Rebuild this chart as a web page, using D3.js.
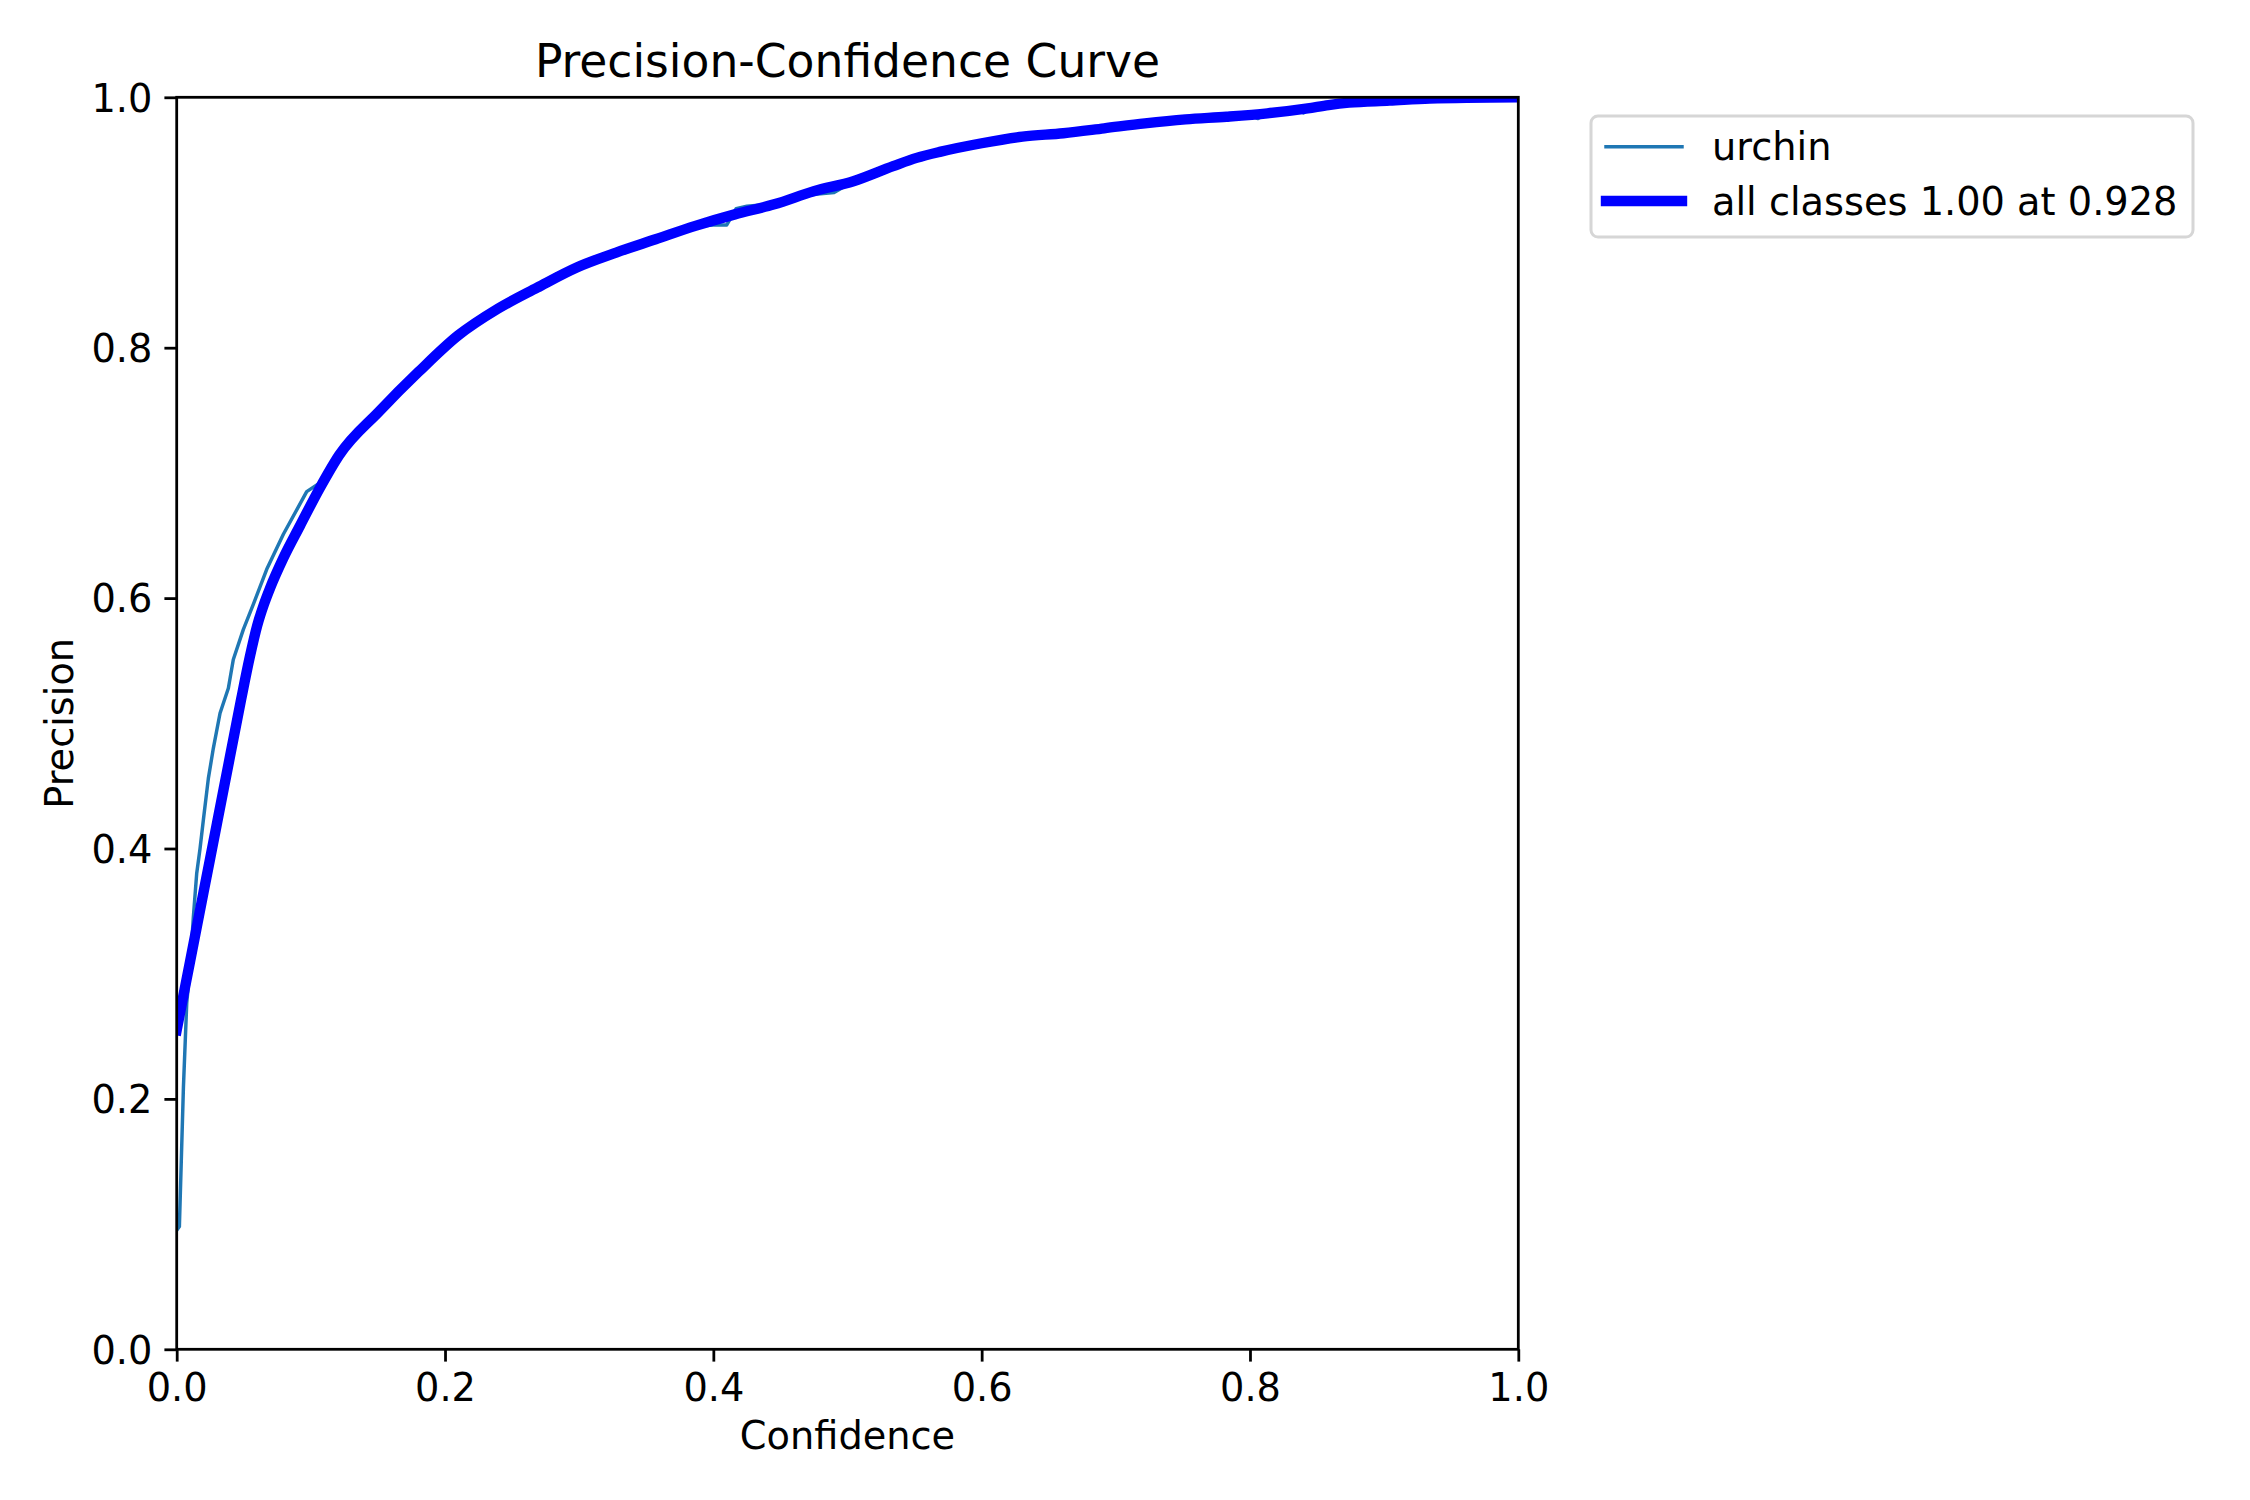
<!DOCTYPE html>
<html>
<head>
<meta charset="utf-8">
<script src="https://cdn.jsdelivr.net/npm/d3@7"></script>
<style>
    body { margin: 0; background: #fff; }
    svg text { font-family: "DejaVu Sans", sans-serif; fill: #000; }
</style>
</head>
<body>
<svg id="chart"></svg>
<script>
const width = 2250;
const height = 1500;
const margin = { top: 97.3, right: 731.7, bottom: 150.7, left: 176.7 };

// confidence / precision
const confAll = [0, 0.01, 0.02, 0.03, 0.04, 0.048, 0.0545, 0.06, 0.065, 0.0696, 0.0795, 0.092,
    0.1067, 0.1213, 0.1508, 0.1803, 0.2098, 0.2392, 0.2687, 0.2982, 0.3276, 0.357, 0.3866,
    0.416, 0.4454, 0.4749, 0.5044, 0.534, 0.5515, 0.5696, 0.6, 0.6304, 0.6609, 0.6913,
    0.7217, 0.752, 0.7825, 0.813, 0.843, 0.8586, 0.8738, 0.904, 0.934, 1.0];
const precAll = [0.255, 0.31, 0.365, 0.42, 0.475, 0.519, 0.553, 0.578, 0.595, 0.608, 0.632, 0.658,
    0.688, 0.7145, 0.749, 0.7807, 0.8098, 0.831, 0.848, 0.8641, 0.876, 0.8866, 0.8973,
    0.9065, 0.9145, 0.925, 0.933, 0.945, 0.9516, 0.9566, 0.9633, 0.9686, 0.9713, 0.9752,
    0.9792, 0.9824, 0.9845, 0.9872, 0.9912, 0.9938, 0.9957, 0.9973, 0.999, 1.0];

const confUrchin = [0, 0.002, 0.005, 0.0075, 0.01, 0.0124, 0.0149, 0.0174, 0.02, 0.0236, 0.0273,
    0.0323, 0.0385, 0.0422, 0.0497, 0.0571, 0.0671, 0.0795, 0.0969, 0.1067, 0.1213, 0.135,
    0.1508, 0.1803, 0.2098, 0.23, 0.245, 0.2687, 0.283, 0.2982, 0.3276, 0.357, 0.3866, 0.4,
    0.41, 0.417, 0.425, 0.4454, 0.47, 0.49, 0.5044, 0.534, 0.5696, 0.6, 0.6304, 0.6609,
    0.6913, 0.7217, 0.752, 0.7825, 0.8, 0.806, 0.813, 0.835, 0.84, 0.845, 0.8586, 0.8738,
    0.904, 0.934, 1.0];
const precUrchin = [0.095, 0.098, 0.209, 0.277, 0.305, 0.345, 0.38, 0.4, 0.424, 0.456, 0.48,
    0.508, 0.528, 0.551, 0.575, 0.595, 0.623, 0.651, 0.685, 0.692, 0.718, 0.733,
    0.75, 0.781, 0.81, 0.826, 0.836, 0.849, 0.859, 0.864, 0.876, 0.887, 0.897, 0.898,
    0.898, 0.911, 0.913, 0.915, 0.922, 0.924, 0.933, 0.945, 0.957, 0.9633, 0.9686, 0.9713,
    0.9752, 0.9792, 0.9824, 0.9845, 0.9858, 0.983, 0.9872, 0.9895, 0.9875, 0.9915, 0.9938, 0.996,
    0.998, 1.0, 1.0];

const xTicks = [0, 0.2, 0.4, 0.6, 0.8, 1.0];
const yTicks = [0, 0.2, 0.4, 0.6, 0.8, 1.0];
const legendLabels = ["urchin", "all classes 1.00 at 0.928"];
const legendColors = ["#1f77b4", "blue"];
const legendWidths = [3.47, 10.4];

const fontSize = 38.3;
const spineWidth = 2.78;

const svg = d3.select("#chart").attr("width", width).attr("height", height);
const innerW = width - margin.left - margin.right;
const innerH = height - margin.top - margin.bottom;

const x = d3.scaleLinear().domain([0, 1]).range([margin.left, margin.left + innerW]);
const y = d3.scaleLinear().domain([0, 1]).range([margin.top + innerH, margin.top]);

svg.append("defs").append("clipPath").attr("id", "plot-clip")
    .append("rect")
    .attr("x", margin.left).attr("y", margin.top)
    .attr("width", innerW).attr("height", innerH);

// curves: per-class is raw (jagged), the all-classes one is smoothed
const rawLine = d3.line().x((d) => x(d[0])).y((d) => y(d[1]));
const smoothLine = d3.line().curve(d3.curveMonotoneX).x((d) => x(d[0])).y((d) => y(d[1]));
const curves = [
    { pts: d3.zip(confUrchin, precUrchin), color: legendColors[0], w: legendWidths[0], gen: rawLine },
    { pts: d3.zip(confAll, precAll), color: legendColors[1], w: legendWidths[1], gen: smoothLine },
];
svg.append("g").attr("clip-path", "url(#plot-clip)")
    .selectAll("path")
    .data(curves)
    .join("path")
    .attr("d", (d) => d.gen(d.pts))
    .attr("fill", "none")
    .attr("stroke", (d) => d.color)
    .attr("stroke-width", (d) => d.w)
    .attr("stroke-linejoin", "round")
    .attr("stroke-linecap", "square");

// axes
const fmt = d3.format(".1f");
const xAxis = svg.append("g")
    .attr("transform", `translate(0, ${margin.top + innerH})`)
    .call(d3.axisBottom(x).tickValues(xTicks).tickFormat(fmt).tickSize(12.3).tickPadding(11));
const yAxis = svg.append("g")
    .attr("transform", `translate(${margin.left}, 0)`)
    .call(d3.axisLeft(y).tickValues(yTicks).tickFormat(fmt).tickSize(12.3).tickPadding(12));
[xAxis, yAxis].forEach((g) => {
    g.select(".domain").remove();
    g.selectAll(".tick line").attr("stroke", "#000").attr("stroke-width", spineWidth);
    g.selectAll(".tick text")
        .attr("font-size", fontSize)
        .attr("font-family", "DejaVu Sans")
        .attr("fill", "#000");
});
xAxis.selectAll(".tick text").attr("dy", "0.74em");
yAxis.selectAll(".tick text").attr("dy", "0.36em");

svg.append("rect")
    .attr("x", margin.left).attr("y", margin.top)
    .attr("width", innerW).attr("height", innerH)
    .attr("fill", "none")
    .attr("stroke", "#000")
    .attr("stroke-width", spineWidth);

// labels
svg.append("text")
    .attr("x", margin.left + innerW / 2).attr("y", 76.7)
    .attr("text-anchor", "middle")
    .attr("font-size", 45.6)
    .text("Precision-Confidence Curve");
svg.append("text")
    .attr("x", margin.left + innerW / 2).attr("y", 1449)
    .attr("text-anchor", "middle")
    .attr("font-size", fontSize)
    .text("Confidence");
svg.append("text")
    .attr("transform", `translate(73, ${margin.top + innerH / 2}) rotate(-90)`)
    .attr("text-anchor", "middle")
    .attr("font-size", fontSize)
    .text("Precision");

// legend
const legend = svg.append("g").attr("transform", "translate(1591, 116)");
legend.append("rect")
    .attr("width", 602).attr("height", 121)
    .attr("rx", 7).attr("ry", 7)
    .attr("fill", "#fff").attr("fill-opacity", 0.8)
    .attr("stroke", "#d6d6d6").attr("stroke-width", 3);
const rows = legend.selectAll("g.row")
    .data(legendLabels)
    .join("g")
    .attr("class", "row")
    .attr("transform", (_d, i) => `translate(0, ${30.7 + i * 54.3})`);
rows.append("line")
    .attr("x1", 15).attr("x2", 91)
    .attr("stroke", (_d, i) => legendColors[i])
    .attr("stroke-width", (_d, i) => legendWidths[i])
    .attr("stroke-linecap", "square");
rows.append("text")
    .attr("x", 121).attr("y", 13.6)
    .attr("font-size", fontSize)
    .text((d) => d);
</script>
</body>
</html>
